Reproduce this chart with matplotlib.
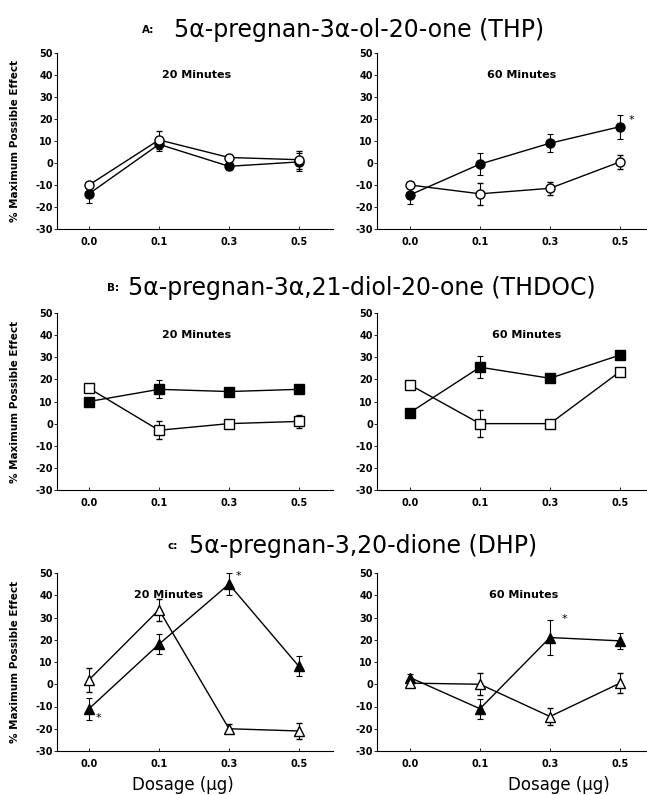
import numpy as np
import matplotlib
matplotlib.use("Agg")
import matplotlib.pyplot as plt

# データ
doses = ["0.0", "0.1", "0.3", "0.5"]
yticks = [-30, -20, -10, 0, 10, 20, 30, 40, 50]

titles = ["5α-pregnan-3α-ol-20-one (THP)",
          "5α-pregnan-3α,21-diol-20-one (THDOC)",
          "5α-pregnan-3,20-dione (DHP)"]
tags = ["A:", "B:", "c:"]
markers = ["o", "s", "^"]

# 20分
A20_filled = [-14, 8.5, -1.5, 0.5]
A20_filled_err = [4, 3, 1.5, 4]
A20_open = [-10, 10.5, 2.5, 1.5]
A20_open_err = [1, 4, 1, 4]
B20_filled = [10, 15.5, 14.5, 15.5]
B20_filled_err = [1.5, 4, 1.5, 1]
B20_open = [16, -3, 0, 1]
B20_open_err = [1.5, 4, 1, 3]
C20_filled = [-11, 18, 45, 8]
C20_filled_err = [5, 4.5, 5, 4.5]
C20_open = [2, 33.5, -20, -21]
C20_open_err = [5.5, 5, 2, 3.5]

# 60分
A60_filled = [-14.5, -0.5, 9, 16.5]
A60_filled_err = [4, 5, 4, 5.5]
A60_open = [-10, -14, -11.5, 0.5]
A60_open_err = [1, 5, 3, 3]
B60_filled = [5, 25.5, 20.5, 31]
B60_filled_err = [1.5, 5, 1.5, 1.5]
B60_open = [17.5, 0, 0, 23.5]
B60_open_err = [1.5, 6, 1.5, 1.5]
C60_filled = [3, -11, 21, 19.5]
C60_filled_err = [1.5, 4.5, 8, 3.5]
C60_open = [0.5, 0, -14.5, 0.5]
C60_open_err = [1.5, 5, 4, 4.5]

rows = [
    [(A20_filled, A20_filled_err, A20_open, A20_open_err),
     (A60_filled, A60_filled_err, A60_open, A60_open_err)],
    [(B20_filled, B20_filled_err, B20_open, B20_open_err),
     (B60_filled, B60_filled_err, B60_open, B60_open_err)],
    [(C20_filled, C20_filled_err, C20_open, C20_open_err),
     (C60_filled, C60_filled_err, C60_open, C60_open_err)],
]

# 有意差の星 (行, 列, x, y)
stars = [(0, 1, 3.17, 19.5), (2, 0, 0.14, -15), (2, 0, 2.14, 48.5), (2, 1, 2.21, 29.5)]

# パネルの「20 Minutes」位置
time_labels = [["20 Minutes", "60 Minutes"]] * 3
time_pos = [[(1.53, 40), (1.6, 40)], [(1.53, 40), (1.66, 40)], [(1.14, 40), (1.63, 40)]]

W, H = 647, 795
fig = plt.figure(figsize=(W / 100, H / 100), dpi=100)

col_x = [(57, 333), (377, 647)]
row_y = [(53, 229), (313, 490), (573, 751)]
xlims = [(-0.457, 3.486), (-0.471, 3.386)]
title_y = [30, 288, 546]
title_x = [(142, 174), (107, 128), (167, 189)]

x = np.arange(len(doses))
for r in range(3):
    fig.text(title_x[r][0] / W, 1 - title_y[r] / H, tags[r], fontsize=7.5,
             fontweight="bold", va="center", ha="left")
    fig.text(title_x[r][1] / W, 1 - title_y[r] / H, titles[r], fontsize=17,
             va="center", ha="left")
    for c in range(2):
        x0, x1 = col_x[c]
        y0, y1 = row_y[r]
        ax = fig.add_axes([x0 / W, 1 - y1 / H, (x1 - x0) / W, (y1 - y0) / H])
        f, fe, o, oe = rows[r][c]
        ax.errorbar(x, f, yerr=fe, color="k", marker=markers[r], ms=6.5, mfc="k",
                    mec="k", lw=1, elinewidth=0.8, capsize=2, capthick=0.8, zorder=3)
        ax.errorbar(x, o, yerr=oe, color="k", marker=markers[r], ms=6.5, mfc="white",
                    mec="k", mew=1, lw=1, elinewidth=0.8, capsize=2, capthick=0.8, zorder=4)
        ax.set_xlim(*xlims[c])
        ax.set_ylim(-30, 50)
        ax.set_xticks(x)
        ax.set_xticklabels(doses, fontsize=7, fontweight="bold")
        ax.set_yticks(yticks)
        ax.set_yticklabels([str(v) for v in yticks], fontsize=7, fontweight="bold")
        ax.tick_params(axis="x", direction="in", length=2, width=0.6, pad=6)
        ax.tick_params(axis="y", direction="out", length=2, width=0.6, pad=1)
        ax.spines["top"].set_visible(False)
        ax.spines["right"].set_visible(False)
        ax.spines["left"].set_linewidth(0.8)
        ax.spines["bottom"].set_linewidth(0.8)
        tx, ty = time_pos[r][c]
        ax.text(tx, ty, time_labels[r][c], fontsize=8, fontweight="bold",
                ha="center", va="center")
        for (sr, sc, sx, sy) in stars:
            if sr == r and sc == c:
                ax.text(sx, sy, "*", fontsize=8, ha="center", va="center")
        if c == 0:
            ax.set_ylabel("% Maximum Possible Effect", fontsize=7.5, fontweight="bold",
                          labelpad=11)
        if r == 2:
            ax.set_xlabel("Dosage (µg)", fontsize=12, labelpad=8)
            ax.xaxis.set_label_coords(0.457 if c == 0 else 0.674, -0.14)

plt.savefig("out.png", dpi=100)
